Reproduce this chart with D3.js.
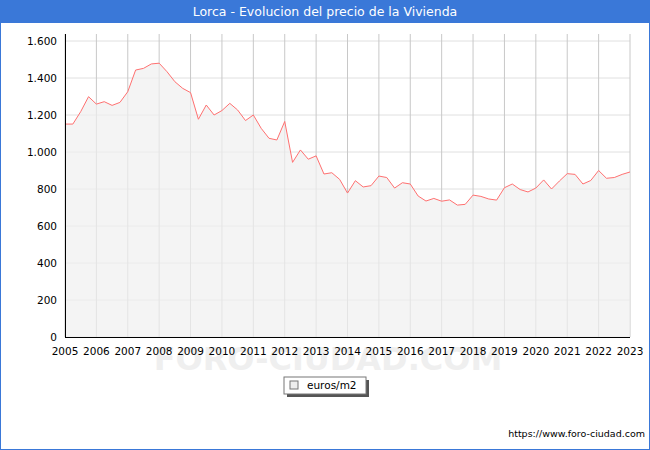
<!DOCTYPE html>
<html><head><meta charset="utf-8">
<script src="https://cdn.jsdelivr.net/npm/d3@7"></script>
<style>body{margin:0;background:#fff}</style>
</head><body><div id="chart"></div>
<script>
var startYear = 2005
var years = [2005,2006,2007,2008,2009,2010,2011,2012,2013,2014,2015,2016,2017,2018,2019,2020,2021,2022,2023]
var yTicks = [0,200,400,600,800,1000,1200,1400,1600]
// quarterly price, euros/m2, from 2005 Q1
var prices = [1151,1151,1218,1299, 1259,1272,1252,1268, 1326,1443,1452,1476,
  1480,1434,1380,1344, 1321,1177,1254,1200, 1224,1263,1227,1170,
  1200,1128,1074,1065, 1165,944,1011,961, 979,881,888,852,
  778,845,811,818, 870,862,805,834, 827,762,735,749,
  734,741,713,717, 767,760,746,740, 807,827,797,784,
  805,849,800,843, 883,879,827,846, 900,858,862,879, 892]

var W = 650, H = 450
var svg = d3.select("#chart").append("svg").attr("width", W).attr("height", H)
  .style("font-family", "Verdana, 'DejaVu Sans', sans-serif")

svg.append("rect").attr("x",0.5).attr("y",0.5).attr("width",W-1).attr("height",H-1)
  .attr("fill","#fff").attr("stroke","#3a78d8")
svg.append("rect").attr("x",0).attr("y",0).attr("width",W).attr("height",23).attr("fill","#3a78d8")
svg.append("text").attr("x",W/2).attr("y",16).attr("text-anchor","middle")
  .attr("fill","#fff").style("font-size","12.5px").text("Lorca - Evolucion del precio de la Vivienda")

// watermark sits behind everything else
svg.append("text").attr("x",328).attr("y",370).attr("text-anchor","middle")
  .attr("fill","#efefef").style("font-size","32px").style("font-weight","bold")
  .text("FORO-CIUDAD.COM")

var x = d3.scaleLinear().domain([2005,2023]).range([65,630])
var y = d3.scaleLinear().domain([0,1600]).range([337,41])

svg.append("rect").attr("x",65).attr("y",34).attr("width",565).attr("height",303).attr("fill","#fff")

svg.append("g").selectAll("line").data(yTicks).enter().append("line")
  .attr("x1",65).attr("x2",630).attr("y1",d=>y(d)).attr("y2",d=>y(d))
  .attr("stroke","#e0e0e0")
svg.append("g").selectAll("line").data(years).enter().append("line")
  .attr("y1",34).attr("y2",337).attr("x1",d=>x(d)).attr("x2",d=>x(d))
  .attr("stroke","#c8c8c8")

var pts = prices.map((v,i)=>[startYear+i/4, v])
svg.append("path").datum(pts)
  .attr("d", d3.area().x(d=>x(d[0])).y0(y(0)).y1(d=>y(d[1])))
  .attr("fill","#f0f0f0").attr("fill-opacity",0.7)
svg.append("path").datum(pts)
  .attr("d", d3.line().x(d=>x(d[0])).y(d=>y(d[1])))
  .attr("fill","none").attr("stroke","#ff7070").attr("stroke-width",1)

svg.append("line").attr("x1",65.5).attr("x2",65.5).attr("y1",34).attr("y2",337).attr("stroke","#000")
svg.append("line").attr("x1",65).attr("x2",630).attr("y1",337.5).attr("y2",337.5).attr("stroke","#000")

var fmt = d3.format(",")
svg.append("g").selectAll("text").data(yTicks).enter().append("text")
  .attr("x",57).attr("y",d=>y(d)+4).attr("text-anchor","end").style("font-size","10.5px")
  .text(d=>fmt(d).replace(",", "."))
svg.append("g").selectAll("text").data(years).enter().append("text")
  .attr("x",d=>x(d)).attr("y",355).attr("text-anchor","middle").style("font-size","10.5px")
  .text(d=>d)

var lg = svg.append("g")
lg.append("rect").attr("x",287).attr("y",380).attr("width",82).attr("height",17).attr("fill","#555")
lg.append("rect").attr("x",284).attr("y",377).attr("width",82).attr("height",17).attr("fill","#fff").attr("stroke","#777")
lg.append("rect").attr("x",290).attr("y",381).attr("width",8).attr("height",8).attr("fill","#eee").attr("stroke","#777")
lg.append("text").attr("x",307).attr("y",389).style("font-size","10.5px").text("euros/m2")

svg.append("text").attr("x",645).attr("y",437).attr("text-anchor","end").style("font-size","9.5px")
  .text("https://www.foro-ciudad.com")
</script></body></html>
